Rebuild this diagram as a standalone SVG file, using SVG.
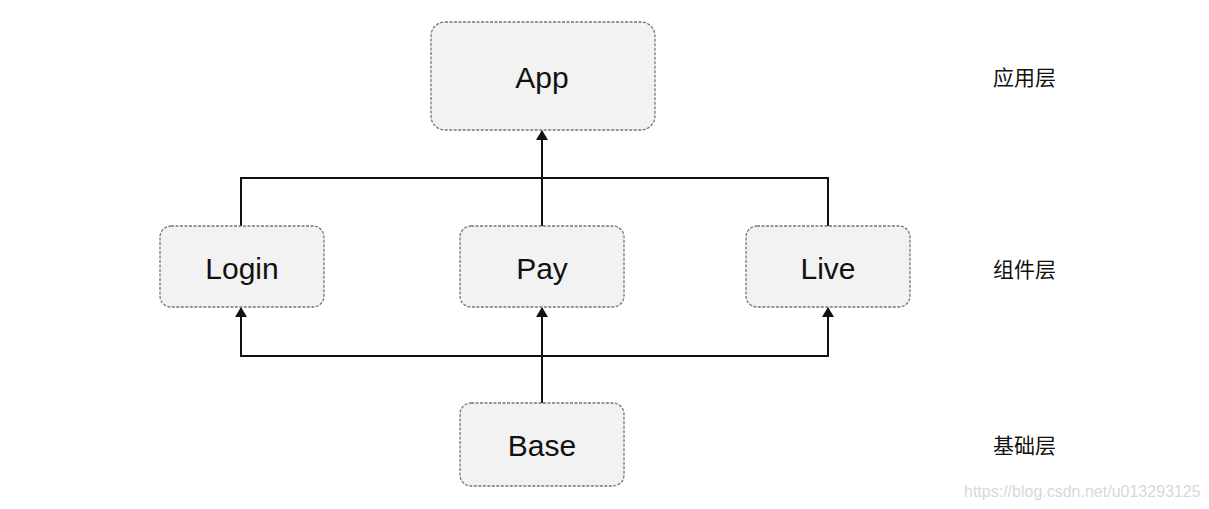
<svg xmlns="http://www.w3.org/2000/svg" width="1209" height="509" viewBox="0 0 1209 509">
<style>
.node rect{fill:#f2f2f2;stroke:#777;stroke-width:1.3;stroke-dasharray:3 1.5}
.node text{font-family:"Liberation Sans",Arial,sans-serif;font-size:30px;fill:#111;text-anchor:middle}
.conn{fill:none;stroke:#111;stroke-width:2}
.layer{font-family:"Liberation Sans","Noto Sans CJK SC",sans-serif;font-size:21px;fill:#111}
.wm{font-family:"Liberation Sans",Arial,sans-serif;font-size:16px;fill:#d8d8d8}
</style>
<defs>
<marker id="arr" viewBox="0 0 10 12" refX="9" refY="6" markerWidth="10" markerHeight="12" markerUnits="userSpaceOnUse" orient="auto">
<path d="M0,0 L10,6 L0,12 z" fill="#111"/>
</marker>
</defs>
<rect width="1209" height="509" fill="#fff"/>
<g id="connectors">
<polyline class="conn" points="241,226 241,178 828,178 828,226"/>
<line class="conn" x1="542" y1="226" x2="542" y2="131" marker-end="url(#arr)"/>
<line class="conn" x1="542" y1="403" x2="542" y2="308" marker-end="url(#arr)"/>
<polyline class="conn" points="241,356 828,356"/>
<line class="conn" x1="241" y1="357" x2="241" y2="308" marker-end="url(#arr)"/>
<line class="conn" x1="828" y1="357" x2="828" y2="308" marker-end="url(#arr)"/>
</g>
<g id="app" class="node"><rect x="431" y="22" width="224" height="108" rx="14"/><text x="542" y="88">App</text></g>
<g id="login" class="node"><rect x="160" y="226" width="164" height="81" rx="11"/><text x="242" y="279">Login</text></g>
<g id="pay" class="node"><rect x="460" y="226" width="164" height="81" rx="11"/><text x="542" y="279">Pay</text></g>
<g id="live" class="node"><rect x="746" y="226" width="164" height="81" rx="11"/><text x="828" y="279">Live</text></g>
<g id="base" class="node"><rect x="460" y="403" width="164" height="83" rx="11"/><text x="542" y="456">Base</text></g>
<g id="labels">
<text class="layer" x="993" y="85">应用层</text>
<text class="layer" x="993" y="277">组件层</text>
<text class="layer" x="993" y="453">基础层</text>
<text class="wm" x="964" y="497">https://blog.csdn.net/u013293125</text>
</g>
</svg>
